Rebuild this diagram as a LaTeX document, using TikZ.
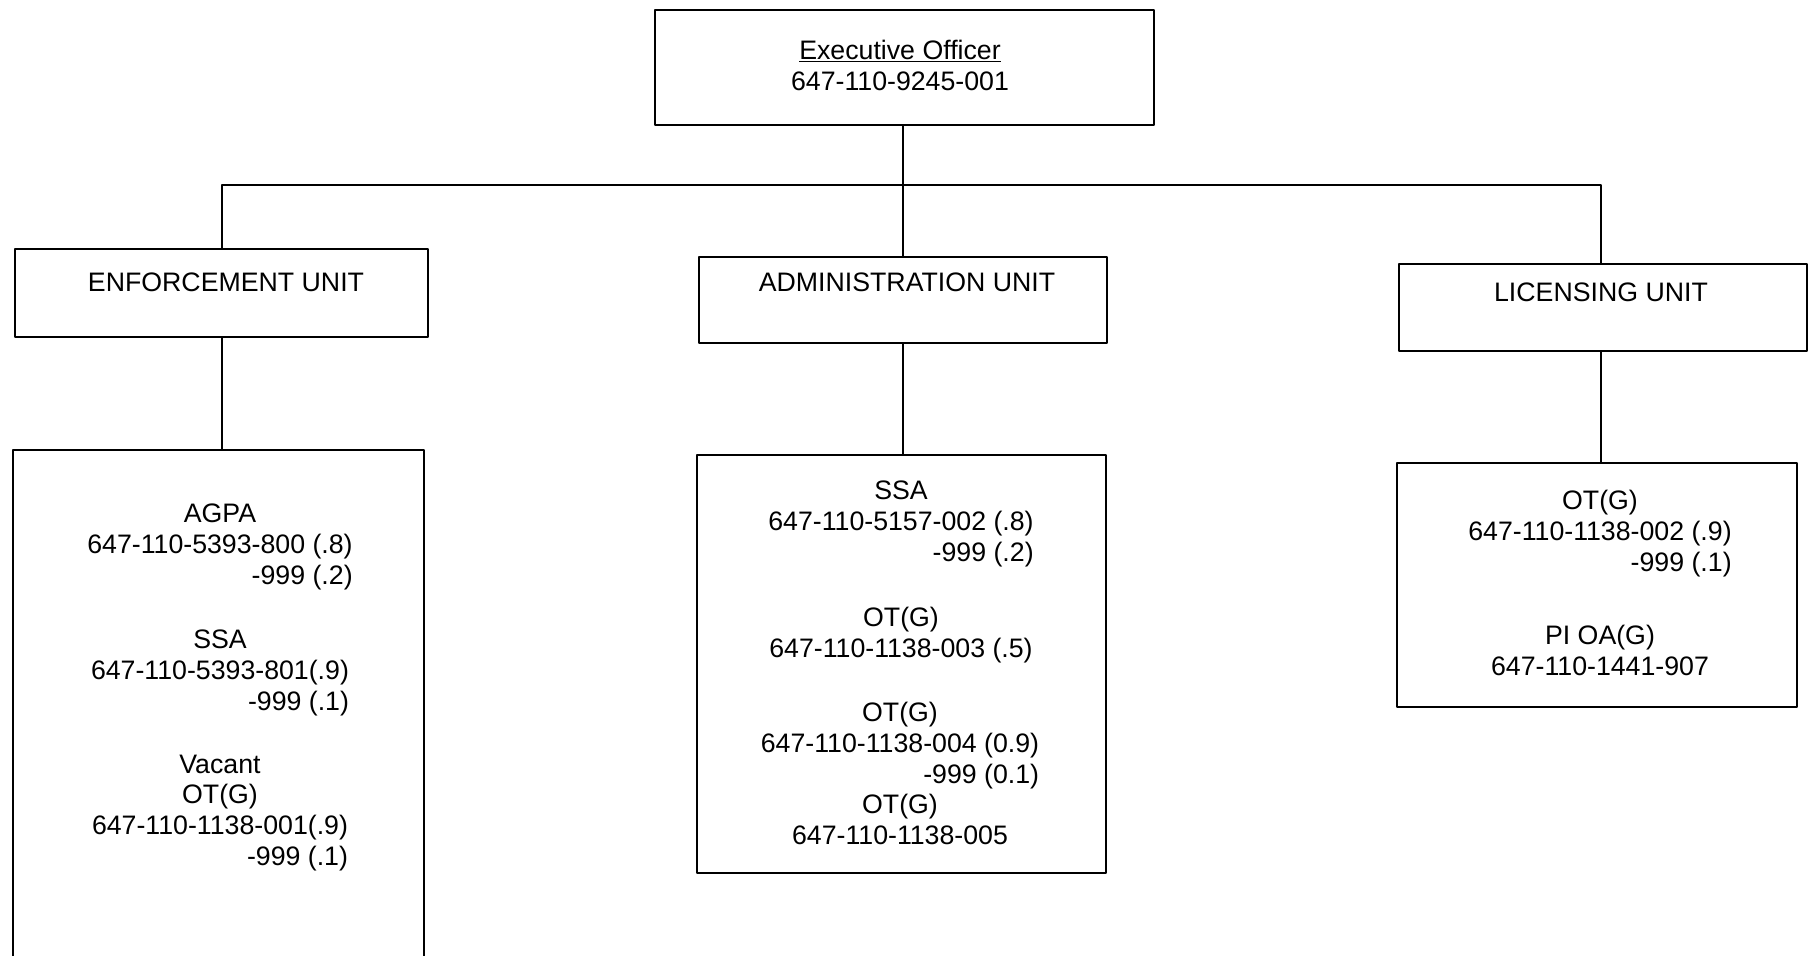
\documentclass[tikz,border=0pt]{standalone}
\usepackage{fontspec}
\setmainfont{Liberation Sans}
\tikzset{
  orgbox/.style={draw, inner sep=0pt},
  posts/.style={align=center, inner sep=0pt, font=\fontsize{19pt}{22pt}\selectfont},
}
\begin{document}
\begin{tikzpicture}[x=0.025cm, y=-0.025cm, line width=1.2pt, line join=round, line cap=round]
			\useasboundingbox (0,0) rectangle (1810,955);
			% boxes
			\node[orgbox, minimum width=12.475cm, minimum height=2.875cm] (exec) at (904.5,67.5) {};
			\node[orgbox, minimum width=10.325cm, minimum height=2.2cm] (enf) at (221.5,293) {};
			\node[orgbox, minimum width=10.2cm, minimum height=2.15cm] (adm) at (903,300) {};
			\node[orgbox, minimum width=10.2cm, minimum height=2.175cm] (lic) at (1603,307.5) {};
			\node[orgbox, minimum width=10.275cm, minimum height=13.25cm] (enfpos) at (218.5,715) {};
			\node[orgbox, minimum width=10.225cm, minimum height=10.45cm] (admpos) at (901.5,664) {};
			\node[orgbox, minimum width=10cm, minimum height=6.1cm] (licpos) at (1597,585) {};
			% connectors
			\coordinate (barL) at (222,185);
			\coordinate (barM) at (903,185);
			\coordinate (barR) at (1601,185);
			\draw (barL |- enf.north) -- (barL) -- (barR) -- (barR |- lic.north);
			\draw (barM |- exec.south) -- (barM |- adm.north);
			\draw (barL |- enf.south) -- (barL |- enfpos.north);
			\draw (barM |- adm.south) -- (barM |- admpos.north);
			\draw (barR |- lic.south) -- (barR |- licpos.north);
			% texts
			\node[posts] (eotext) at (900,65) {\underline{Executive Officer}\\647-110-9245-001};
			\node[posts] (enftext) at (226,282) {ENFORCEMENT UNIT};
			\node[posts] (admtext) at (907,282) {ADMINISTRATION UNIT};
			\node[posts] (lictext) at (1601,292) {LICENSING UNIT};
			\node[posts] (agpa) at (220,547) {AGPA\\647-110-5393-800 (.8)\\\hfill-999 (.2)};
			\node[posts] (enfssa) at (220,673) {SSA\\647-110-5393-801(.9)\\\hfill-999 (.1)};
			\node[posts] (vacant) at (220,813) {Vacant\\OT(G)\\647-110-1138-001(.9)\\\hfill-999 (.1)};
			\node[posts] (admssa) at (901,524) {SSA\\647-110-5157-002 (.8)\\\hfill-999 (.2)};
			\node[posts] (admot) at (901,635) {OT(G)\\647-110-1138-003 (.5)};
			\node[posts] (admotb) at (900,773.5) {OT(G)\\647-110-1138-004 (0.9)\\\hfill-999 (0.1)\\OT(G)\\647-110-1138-005};
			\node[posts] (licot) at (1600,534) {OT(G)\\647-110-1138-002 (.9)\\\hfill-999 (.1)};
			\node[posts] (licpioa) at (1600,650) {PI OA(G)\\647-110-1441-907};
		\end{tikzpicture}
\end{document}
